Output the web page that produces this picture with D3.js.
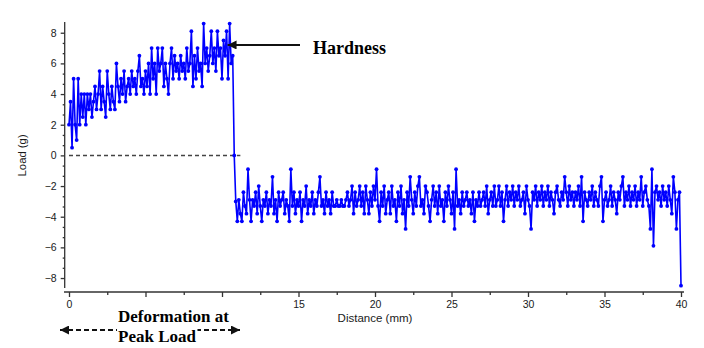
<!DOCTYPE html>
<html>
<head>
<meta charset="utf-8">
<script src="https://cdn.jsdelivr.net/npm/d3@7"></script>
<style>
  html, body { margin: 0; padding: 0; background: #fff; }
  svg { display: block; }
</style>
</head>
<body>
<svg id="chart" width="704" height="348"></svg>
<script>
// ---- data ----
const sampleStep = 0.1;          // mm between samples
const riseStart = 0.0;           // first sample of the loading phase (mm)
// load (g) from 0.0 to 10.7 mm
const loadRise = [
  2.0, 3.5, 0.5, 5.0, 2.0, 1.0, 5.0, 2.0, 4.0, 2.5,
  4.0, 2.0, 4.0, 3.0, 4.0, 2.5, 3.5, 4.5, 3.0, 4.0,
  5.5, 3.0, 4.5, 3.5, 2.5, 5.5, 4.0, 3.0, 4.5, 3.5,
  3.0, 6.0, 4.5, 3.5, 5.0, 4.0, 5.5, 3.5, 4.5, 5.0,
  4.0, 5.5, 4.5, 5.0, 4.0, 5.5, 6.5, 4.5, 5.0, 4.0,
  5.5, 4.5, 6.0, 4.0, 7.0, 5.0, 6.0, 4.0, 7.0, 5.5,
  6.0, 7.0, 4.5, 6.0, 5.0, 4.0, 6.0, 7.0, 5.0, 6.5,
  5.5, 6.0, 5.0, 6.5, 5.5, 6.0, 5.0, 7.0, 5.5, 6.0,
  8.1, 4.5, 6.5, 5.0, 7.0, 5.5, 6.0, 4.5, 8.6, 6.0,
  7.0, 5.5, 6.5, 8.1, 6.0, 7.0, 5.5, 8.1, 6.5, 7.0,
  5.0, 7.5, 6.5, 8.1, 5.0, 8.6, 6.0, 6.5
];
// load (g) from 10.8 to 40.0 mm
const loadAfter = [
  0.0, -3.0,
  -4.3, -2.9, -3.8, -4.3, -2.4, -3.3, -3.8, -0.9, -2.9, -4.3,
  -2.9, -3.3, -2.4, -3.8, -2.0, -3.3, -4.3, -2.9, -3.3, -2.4,
  -3.8, -2.9, -3.3, -1.4, -3.8, -2.9, -4.3, -2.4, -3.3, -2.9,
  -2.4, -3.8, -2.9, -3.3, -4.3, -0.9, -3.3, -2.4, -3.8, -2.9,
  -3.3, -2.4, -4.3, -2.9, -3.3, -2.0, -3.8, -2.9, -3.3, -2.4,
  -3.8, -2.9, -3.3, -2.4, -1.4, -3.3, -2.9, -3.8, -2.4, -3.3,
  -2.9, -3.8, -2.4, -3.3, -3.3, -2.9, -3.3, -3.3, -2.9, -3.3,
  -3.3, -2.9, -2.4, -3.3, -2.9, -2.0, -3.8, -2.4, -3.3, -2.9,
  -2.0, -3.3, -2.4, -3.8, -2.0, -2.9, -3.8, -2.4, -3.3, -2.0,
  -2.9, -0.9, -3.3, -4.3, -2.4, -3.3, -2.0, -3.8, -2.9, -2.4,
  -3.8, -2.0, -3.3, -2.9, -4.3, -2.4, -3.3, -2.0, -3.8, -2.9,
  -4.8, -2.4, -3.3, -1.4, -2.9, -3.8, -2.4, -3.3, -2.0, -1.4,
  -3.3, -2.9, -3.8, -2.0, -2.4, -3.3, -4.3, -2.9, -2.0, -3.3,
  -2.4, -3.8, -2.0, -3.3, -2.9, -4.3, -2.4, -3.3, -2.0, -2.9,
  -3.8, -2.4, -4.8, -0.9, -3.3, -2.9, -3.8, -2.4, -3.3, -2.9,
  -2.4, -3.3, -2.9, -3.8, -2.4, -4.3, -2.9, -3.3, -2.4, -3.3,
  -2.9, -2.4, -3.3, -2.0, -3.8, -2.9, -2.4, -3.3, -2.0, -3.3,
  -2.9, -2.0, -3.3, -2.4, -4.3, -2.9, -2.0, -3.3, -2.4, -2.9,
  -2.0, -3.3, -2.4, -2.9, -2.0, -3.3, -2.9, -2.4, -3.8, -2.0,
  -2.9, -3.3, -4.8, -2.4, -2.9, -2.0, -3.3, -2.4, -2.9, -2.0,
  -3.3, -2.4, -2.9, -2.0, -3.3, -2.4, -2.9, -3.8, -2.4, -2.0,
  -2.9, -3.3, -2.4, -2.9, -1.4, -2.4, -3.3, -2.0, -2.9, -2.4,
  -3.3, -2.4, -2.9, -2.0, -3.3, -1.4, -4.3, -2.4, -2.9, -3.3,
  -2.4, -2.9, -2.0, -3.3, -2.4, -2.9, -3.3, -2.0, -1.4, -4.3,
  -2.9, -2.4, -3.3, -2.9, -2.0, -3.3, -2.4, -2.9, -3.8, -2.4,
  -2.9, -2.0, -1.4, -3.3, -2.4, -2.9, -2.0, -3.3, -2.4, -2.9,
  -2.0, -3.3, -2.4, -2.9, -1.4, -3.3, -2.4, -2.0, -2.9, -3.3,
  -4.8, -0.9, -5.9, -2.4, -2.0, -2.9, -2.4, -3.3, -2.0, -2.9,
  -2.4, -3.3, -2.0, -2.9, -3.8, -1.4, -2.4, -4.8, -2.9, -2.4,
  -8.5
];
const xTicksMajor = [0, 5, 10, 15, 20, 25, 30, 35, 40];
// labels at 5 and 10 are hidden behind the annotation box in the reference
const xTickLabels = ["0", "", "", "15", "20", "25", "30", "35", "40"];
const xTicksMinor = [2.5, 7.5, 12.5, 17.5, 22.5, 27.5, 32.5, 37.5];
const yTicksMajor = [-8, -6, -4, -2, 0, 2, 4, 6, 8];
const yTickStep = 2, yMinorPerMajor = 3;
const zeroLineEnd = 11.2;        // dashed zero reference ends here (mm)
const xTitle = "Distance (mm)";
const yTitle = "Load (g)";
const hardnessLabel = "Hardness";
const hardnessValue = 7.2;       // where the arrow points (g)
const hardnessAt = 10.3;         // mm
const deformLines = ["Deformation at", "Peak Load"];

// ---- build series ----
const afterStart = riseStart + loadRise.length * sampleStep;
const points = loadRise.map((v, i) => ({ x: +(riseStart + i * sampleStep).toFixed(2), y: v }))
  .concat(loadAfter.map((v, i) => ({ x: +(afterStart + i * sampleStep).toFixed(2), y: v })));

// ---- scales ----
const x = d3.scaleLinear().domain([0, 40]).range([69, 681]);
const y = d3.scaleLinear().domain([-8.65, 8.7]).range([288, 22]);

const svg = d3.select("#chart");
const axisColor = "#333";
const textColor = "#1a1a1a";
const fontSans = "Arial, 'Liberation Sans', sans-serif";
const fontSerif = "'Times New Roman', 'Liberation Serif', serif";

// ---- axes ----
const xAxisY = 292;
const yAxisX = 64.7;

svg.append("line").attr("x1", 64).attr("x2", 684).attr("y1", xAxisY).attr("y2", xAxisY)
  .attr("stroke", axisColor).attr("stroke-width", 1.3);
const gx = svg.append("g").attr("transform", `translate(0,${xAxisY})`);
gx.call(d3.axisBottom(x).tickValues(xTicksMajor).tickSize(5)
  .tickFormat((d, i) => xTickLabels[i]));
gx.select(".domain").remove();
gx.selectAll(".tick line").attr("stroke", axisColor).attr("stroke-width", 1.3);
gx.selectAll(".tick text").attr("fill", textColor).attr("font-family", fontSans)
  .attr("font-size", 10.5).attr("dy", "0.95em").attr("y", 6);
gx.selectAll(".tick text").filter(function () { return this.textContent === ""; }).remove();
const gxm = svg.append("g").attr("transform", `translate(0,${xAxisY})`);
gxm.call(d3.axisBottom(x).tickValues(xTicksMinor).tickSize(3).tickFormat(""));
gxm.select(".domain").remove();
gxm.selectAll(".tick text").remove();
gxm.selectAll(".tick line").attr("stroke", axisColor).attr("stroke-width", 1.3);

svg.append("line").attr("x1", yAxisX).attr("x2", yAxisX).attr("y1", 22).attr("y2", 288)
  .attr("stroke", axisColor).attr("stroke-width", 1.3);
const gy = svg.append("g").attr("transform", `translate(${yAxisX},0)`);
gy.call(d3.axisLeft(y).tickValues(yTicksMajor).tickSize(4).tickPadding(4).tickFormat(d3.format("d")));
gy.select(".domain").remove();
gy.selectAll(".tick line").attr("stroke", axisColor).attr("stroke-width", 1.3);
gy.selectAll(".tick text").attr("fill", textColor).attr("font-family", fontSans).attr("font-size", 10.5);
const yMinor = [];
yTicksMajor.slice(0, -1).forEach(t => {
  for (let k = 1; k < yMinorPerMajor; k++) yMinor.push(t + k * yTickStep / yMinorPerMajor);
});
const gym = svg.append("g").attr("transform", `translate(${yAxisX},0)`);
gym.call(d3.axisLeft(y).tickValues(yMinor).tickSize(2).tickFormat(""));
gym.select(".domain").remove();
gym.selectAll(".tick text").remove();
gym.selectAll(".tick line").attr("stroke", axisColor).attr("stroke-width", 1.3);

svg.append("text").attr("x", x(20)).attr("y", 322).attr("text-anchor", "middle")
  .attr("font-family", fontSans).attr("font-size", 11.5).attr("fill", textColor).text(xTitle);
svg.append("text").attr("transform", `translate(25.5,${y(0)}) rotate(-90)`).attr("text-anchor", "middle")
  .attr("font-family", fontSans).attr("font-size", 11.3).attr("fill", textColor).text(yTitle);

svg.append("line").attr("x1", x(0)).attr("x2", x(zeroLineEnd)).attr("y1", y(0)).attr("y2", y(0))
  .attr("stroke", "#444").attr("stroke-width", 1.5).attr("stroke-dasharray", "4,3");

// ---- data line ----
const line = d3.line().x(d => x(d.x)).y(d => y(d.y));
svg.append("path").datum(points).attr("d", line)
  .attr("fill", "none").attr("stroke", "#0000ff").attr("stroke-width", 1.6).attr("stroke-linejoin", "round");
svg.append("g").selectAll("circle").data(points).join("circle")
  .attr("cx", d => x(d.x)).attr("cy", d => y(d.y)).attr("r", 1.9).attr("fill", "#0000ff");

// ---- annotations ----
const defs = svg.append("defs");
defs.append("marker").attr("id", "ah").attr("viewBox", "0 0 10 10").attr("refX", 10).attr("refY", 5)
  .attr("markerWidth", 4.5).attr("markerHeight", 4.5).attr("markerUnits", "strokeWidth").attr("orient", "auto-start-reverse")
  .append("path").attr("d", "M0,0 L10,5 L0,10 Z").attr("fill", "#111");

const hy = y(hardnessValue);
svg.append("line").attr("x1", 300).attr("x2", x(hardnessAt) + 1).attr("y1", hy).attr("y2", hy)
  .attr("stroke", "#111").attr("stroke-width", 2).attr("marker-end", "url(#ah)");
svg.append("text").attr("x", 313).attr("y", 54).attr("font-family", fontSerif).attr("font-weight", "bold")
  .attr("font-size", 18).attr("fill", "#000").text(hardnessLabel);

svg.append("line").attr("x1", 60).attr("x2", 240).attr("y1", 330).attr("y2", 330)
  .attr("stroke", "#111").attr("stroke-width", 2).attr("stroke-dasharray", "5,3")
  .attr("marker-start", "url(#ah)").attr("marker-end", "url(#ah)");
deformLines.forEach((t, i) => {
  const g = svg.append("g");
  const txt = g.append("text").attr("x", 118).attr("y", 321.7 + i * 20).attr("font-family", fontSerif)
    .attr("font-weight", "bold").attr("font-size", 17).attr("fill", "#000").text(t);
  const bb = txt.node().getBBox();
  g.insert("rect", "text").attr("x", bb.x - 1).attr("y", bb.y + 2).attr("width", bb.width + 2)
    .attr("height", bb.height - 3).attr("fill", "#fff");
});
</script>
</body>
</html>
